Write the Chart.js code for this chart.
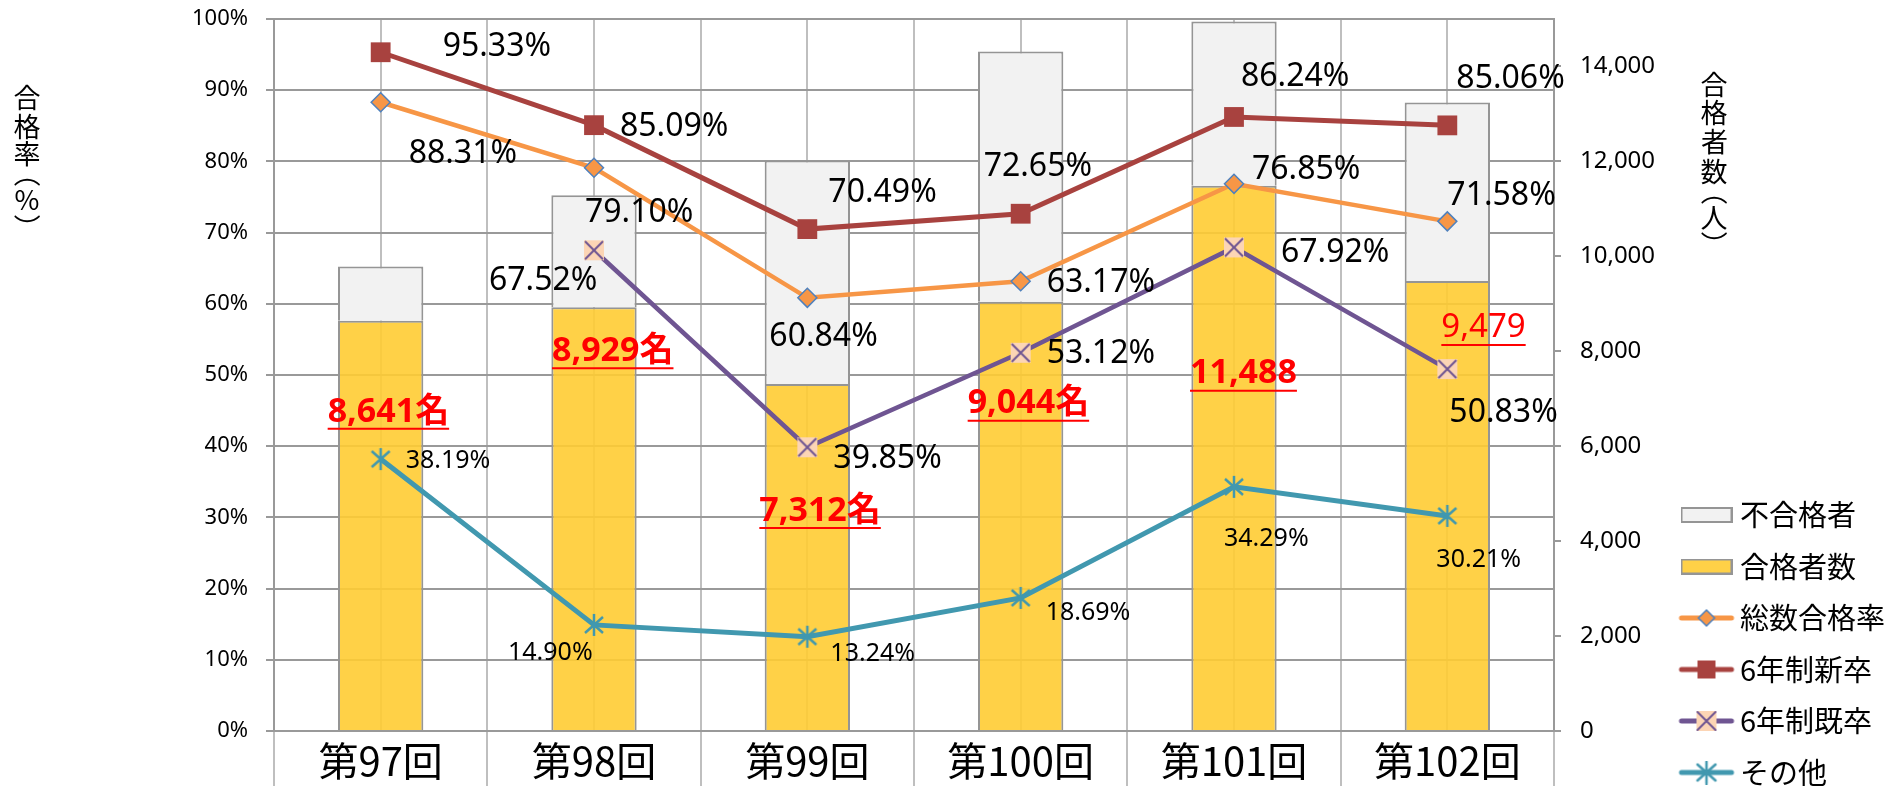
<!DOCTYPE html>
<html lang="ja">
<head>
<meta charset="utf-8">
<title>合格者数・合格率の推移</title>
<script src="https://cdn.jsdelivr.net/npm/chart.js@4.4.1/dist/chart.umd.min.js"></script>
<style>
html, body { margin: 0; padding: 0; background: #fff; overflow: hidden; }
#chartBox { width: 1904px; height: 786px; }
</style>
</head>
<body>
<div id="chartBox"><canvas id="passChart" width="1904" height="786"></canvas></div>
<script>
// データ
var categories = ['第97回', '第98回', '第99回', '第100回', '第101回', '第102回'];
var passCount = [8641, 8929, 7312, 9044, 11488, 9479];     // 合格者数
var failCount = [1144, 2359, 4707, 5272, 3461, 3764];      // 不合格者
var totalRate = [88.31, 79.10, 60.84, 63.17, 76.85, 71.58];   // 総数合格率
var newGradRate = [95.33, 85.09, 70.49, 72.65, 86.24, 85.06]; // 6年制新卒
var repeatRate = [null, 67.52, 39.85, 53.12, 67.92, 50.83];   // 6年制既卒
var otherRate = [38.19, 14.90, 13.24, 18.69, 34.29, 30.21];   // その他
var countSuffix = ['名', '名', '名', '名', '', ''];
var countBold = [true, true, true, true, true, false];
var rateTickValues = [0, 10, 20, 30, 40, 50, 60, 70, 80, 90, 100];
var countTickValues = [0, 2000, 4000, 6000, 8000, 10000, 12000, 14000];
var countMax = 15000;

// ラベルの位置 (点からのずれ px: 左端, 縦中心)
var totalOff = [[28, 52], [-9, 45], [-38, 39], [26, 2], [18, -14], [0, -25]];
var newOff = [[62, -5], [26, 2], [21, -36], [-37, -47], [7, -40], [9, -46]];
var repeatOff = [null, [-105, 31], [26, 12], [26, 1], [47, 5], [2, 44]];
var otherOff = [[25, 2], [-86, 28], [23, 17], [25, 15], [-10, 52], [-11, 44]];
var countOff = [[-53, 91], [-42, 44], [-48, 127], [-53, 102], [-44, 188], [-6, 47]];

var LATIN = '"Noto Sans", "Noto Sans CJK JP", sans-serif';
var CJK = '"Noto Sans CJK JP", "Noto Sans", sans-serif';

var C_ORANGE = '#F79646', C_BLUE = '#4F81BD', C_RED = '#A8423F',
    C_PURPLE = '#6F5592', C_PEACH = '#FCD5B5', C_TEAL = '#4198AF',
    C_YELLOW = 'rgba(255, 204, 51, 0.9)', C_GRAY = '#F2F2F2', C_EDGE = '#959595';

function makeCanvas(w, h, draw) {
    var c = document.createElement('canvas');
    c.width = w;
    c.height = h;
    draw(c.getContext('2d'));
    return c;
}

// マーカー
function drawXBox(ctx, cx, cy) {
    ctx.fillStyle = C_PEACH;
    ctx.fillRect(cx - 10, cy - 10, 20, 20);
    ctx.strokeStyle = C_PURPLE;
    ctx.lineWidth = 2;
    ctx.beginPath();
    ctx.moveTo(cx - 9, cy - 9); ctx.lineTo(cx + 9, cy + 9);
    ctx.moveTo(cx + 9, cy - 9); ctx.lineTo(cx - 9, cy + 9);
    ctx.stroke();
}
function drawStar(ctx, cx, cy) {
    ctx.strokeStyle = C_TEAL;
    ctx.lineWidth = 2.5;
    ctx.beginPath();
    ctx.moveTo(cx, cy - 11); ctx.lineTo(cx, cy + 11);
    ctx.moveTo(cx - 9, cy - 8); ctx.lineTo(cx + 9, cy + 8);
    ctx.moveTo(cx + 9, cy - 8); ctx.lineTo(cx - 9, cy + 8);
    ctx.stroke();
}
function drawDiamond(ctx, cx, cy) {
    ctx.fillStyle = C_ORANGE;
    ctx.strokeStyle = C_BLUE;
    ctx.lineWidth = 1.5;
    ctx.beginPath();
    ctx.moveTo(cx - 8, cy); ctx.lineTo(cx, cy - 8); ctx.lineTo(cx + 8, cy); ctx.lineTo(cx, cy + 8);
    ctx.closePath();
    ctx.fill();
    ctx.stroke();
}
function drawSquare(ctx, cx, cy) {
    ctx.fillStyle = C_RED;
    ctx.fillRect(cx - 9, cy - 9, 18, 18);
}

var xBoxMarker = makeCanvas(24, 24, function (ctx) { drawXBox(ctx, 12, 12); });
var starMarker = makeCanvas(24, 24, function (ctx) { drawStar(ctx, 12, 12); });

function lineIcon(color, mark) {
    return makeCanvas(58, 24, function (ctx) {
        ctx.strokeStyle = color;
        ctx.lineWidth = 5;
        ctx.lineCap = 'round';
        ctx.beginPath();
        ctx.moveTo(4, 12); ctx.lineTo(54, 12);
        ctx.stroke();
        mark(ctx, 29, 12);
    });
}
function boxIcon(fill) {
    return makeCanvas(52, 16, function (ctx) {
        ctx.fillStyle = '#fff';
        ctx.fillRect(0, 0, 52, 16);
        ctx.fillStyle = fill;
        ctx.fillRect(1, 1, 50, 14);
        ctx.strokeStyle = C_EDGE;
        ctx.lineWidth = 2;
        ctx.strokeRect(1, 1, 50, 14);
    });
}

// 凡例 (表示順)
var legendNames = ['不合格者', '合格者数', '総数合格率', '6年制新卒', '6年制既卒', 'その他'];
var legendDataset = [1, 0, 2, 3, 4, 5];
var legendIcons = [
    boxIcon(C_GRAY),
    boxIcon(C_YELLOW),
    lineIcon(C_ORANGE, drawDiamond),
    lineIcon(C_RED, drawSquare),
    lineIcon(C_PURPLE, drawXBox),
    lineIcon(C_TEAL, drawStar)
];

// 縦書きの軸タイトル
function drawVerticalText(ctx, chars, x, ys) {
    ctx.save();
    ctx.font = '27px ' + CJK;
    ctx.fillStyle = '#000';
    ctx.textAlign = 'left';
    ctx.textBaseline = 'alphabetic';
    chars.forEach(function (ch, i) {
        var m = ctx.measureText(ch);
        var inkCx = (m.actualBoundingBoxRight - m.actualBoundingBoxLeft) / 2;
        var inkCy = (m.actualBoundingBoxDescent - m.actualBoundingBoxAscent) / 2;
        ctx.save();
        ctx.translate(x, ys[i]);
        if (ch === '（' || ch === '）') ctx.rotate(Math.PI / 2);
        ctx.fillText(ch, -inkCx, -inkCy);
        ctx.restore();
    });
    ctx.restore();
}

var titlePlugin = {
    id: 'axisTitles',
    afterDraw: function (chart) {
        var ctx = chart.ctx;
        drawVerticalText(ctx, ['合', '格', '率', '（', '%', '）'], 27, [97, 126, 154, 182, 200, 219]);
        drawVerticalText(ctx, ['合', '格', '者', '数', '（', '人', '）'], 1714, [84, 112, 141, 171, 200, 218, 236]);
    }
};

// 凡例を右下に置く
var legendPlugin = {
    id: 'legendPlace',
    afterLayout: function (chart) {
        var lg = chart.legend;
        lg.left = 1665;
        lg.right = 1904;
        lg.width = 239;
        lg.top = 478;
        lg.bottom = 1000;
        lg.height = 522;
    }
};

// 値ラベル
var lineLabelSets = [
    { index: 2, values: totalRate, offsets: totalOff, font: '32px ' + LATIN },
    { index: 3, values: newGradRate, offsets: newOff, font: '32px ' + LATIN },
    { index: 4, values: repeatRate, offsets: repeatOff, font: '32px ' + LATIN },
    { index: 5, values: otherRate, offsets: otherOff, font: '25px ' + LATIN }
];

var labelPlugin = {
    id: 'valueLabels',
    afterDatasetsDraw: function (chart) {
        var ctx = chart.ctx;
        ctx.save();
        ctx.textAlign = 'left';
        ctx.textBaseline = 'middle';

        lineLabelSets.forEach(function (set) {
            var pts = chart.getDatasetMeta(set.index).data;
            ctx.font = set.font;
            ctx.fillStyle = '#000';
            pts.forEach(function (pt, i) {
                var v = set.values[i];
                if (v === null || !set.offsets[i]) return;
                ctx.fillText(v.toFixed(2) + '%', pt.x + set.offsets[i][0], pt.y + set.offsets[i][1]);
            });
        });

        var bars = chart.getDatasetMeta(0).data;
        bars.forEach(function (bar, i) {
            var text = passCount[i].toLocaleString('en-US') + countSuffix[i];
            var x = bar.x + countOff[i][0];
            var y = bar.y + countOff[i][1];
            ctx.font = (countBold[i] ? 'bold 34px ' : '33px ') + LATIN;
            ctx.fillStyle = '#FF0000';
            ctx.fillText(text, x, y);
            var w = ctx.measureText(text).width;
            ctx.strokeStyle = '#FF0000';
            ctx.lineWidth = 2;
            ctx.beginPath();
            ctx.moveTo(x, y + 17);
            ctx.lineTo(x + w, y + 17);
            ctx.stroke();
        });
        ctx.restore();
    }
};

function fixedTicks(values) {
    return function (s) {
        s.ticks = values.map(function (v) { return { value: v }; });
    };
}
function noEdgePadding(width) {
    return function (s) {
        s.width = width;
        s.paddingTop = 0;
        s.paddingBottom = 0;
    };
}

var ctx = document.getElementById('passChart').getContext('2d');

var passChart = new Chart(ctx, {
    type: 'bar',
    data: {
        labels: categories,
        datasets: [
            {
                type: 'bar', label: '合格者数', data: passCount, yAxisID: 'yCount',
                backgroundColor: C_YELLOW, borderColor: C_EDGE, borderWidth: 2,
                barPercentage: 0.4, categoryPercentage: 1, order: 2
            },
            {
                type: 'bar', label: '不合格者', data: failCount, yAxisID: 'yCount',
                backgroundColor: C_GRAY, borderColor: C_EDGE, borderWidth: 2,
                barPercentage: 0.4, categoryPercentage: 1, order: 2
            },
            {
                type: 'line', label: '総数合格率', data: totalRate, yAxisID: 'yRate',
                borderColor: C_ORANGE, borderWidth: 4.5, tension: 0,
                pointStyle: 'rectRot', pointRadius: 9.5,
                pointBackgroundColor: C_ORANGE, pointBorderColor: C_BLUE, pointBorderWidth: 1.5,
                order: 1
            },
            {
                type: 'line', label: '6年制新卒', data: newGradRate, yAxisID: 'yRate',
                borderColor: C_RED, borderWidth: 5, tension: 0,
                pointStyle: 'rect', pointRadius: 14,
                pointBackgroundColor: C_RED, pointBorderColor: C_RED, pointBorderWidth: 0,
                order: 1
            },
            {
                type: 'line', label: '6年制既卒', data: repeatRate, yAxisID: 'yRate',
                borderColor: C_PURPLE, borderWidth: 4.5, tension: 0,
                pointStyle: xBoxMarker, pointRadius: 10,
                order: 1
            },
            {
                type: 'line', label: 'その他', data: otherRate, yAxisID: 'yRate',
                borderColor: C_TEAL, borderWidth: 5, tension: 0,
                pointStyle: starMarker, pointRadius: 10,
                order: 1
            }
        ]
    },
    options: {
        responsive: false,
        animation: false,
        events: [],
        layout: { padding: { top: 19, left: 0, right: 0, bottom: 0 } },
        plugins: {
            tooltip: { enabled: false },
            legend: {
                position: 'right',
                align: 'start',
                maxWidth: 180,
                labels: {
                    usePointStyle: true,
                    pointStyleWidth: 38,
                    padding: 22.5,
                    color: '#000',
                    font: { family: CJK, size: 29 },
                    generateLabels: function () {
                        return legendNames.map(function (name, i) {
                            return {
                                text: name,
                                pointStyle: legendIcons[i],
                                fontColor: '#000',
                                lineWidth: 0,
                                hidden: false,
                                datasetIndex: legendDataset[i]
                            };
                        });
                    }
                }
            }
        },
        scales: {
            x: {
                stacked: true,
                offset: true,
                grid: { offset: true, color: '#BFBFBF', lineWidth: 2, tickLength: 55, tickColor: '#BFBFBF' },
                border: { color: '#999999', width: 2 },
                ticks: { color: '#000', font: { family: CJK, size: 40 }, padding: -49, maxRotation: 0, autoSkip: false },
                afterFit: function (s) { s.height = 55; }
            },
            xMid: {
                type: 'category',
                position: 'bottom',
                offset: true,
                grid: { offset: false, color: '#BFBFBF', lineWidth: 2, drawTicks: false },
                border: { display: false },
                ticks: { display: false },
                afterFit: function (s) { s.height = 0; }
            },
            yRate: {
                position: 'left',
                min: 0,
                max: 100,
                grid: { color: '#999999', lineWidth: 2, tickLength: 8 },
                border: { color: '#999999', width: 2 },
                ticks: {
                    color: '#000',
                    padding: 18,
                    font: { family: LATIN, size: 22 },
                    callback: function (v) { return v + '%'; }
                },
                afterBuildTicks: fixedTicks(rateTickValues),
                afterFit: noEdgePadding(274)
            },
            yCount: {
                position: 'right',
                stacked: true,
                min: 0,
                max: countMax,
                grid: { drawOnChartArea: false, color: '#999999', lineWidth: 2, tickLength: 7 },
                border: { color: '#999999', width: 2 },
                ticks: {
                    color: '#000',
                    padding: 19,
                    font: { family: LATIN, size: 24 },
                    callback: function (v) { return v.toLocaleString('en-US'); }
                },
                afterBuildTicks: fixedTicks(countTickValues),
                afterFit: noEdgePadding(170)
            }
        }
    },
    plugins: [legendPlugin, labelPlugin, titlePlugin]
});
</script>
</body>
</html>
